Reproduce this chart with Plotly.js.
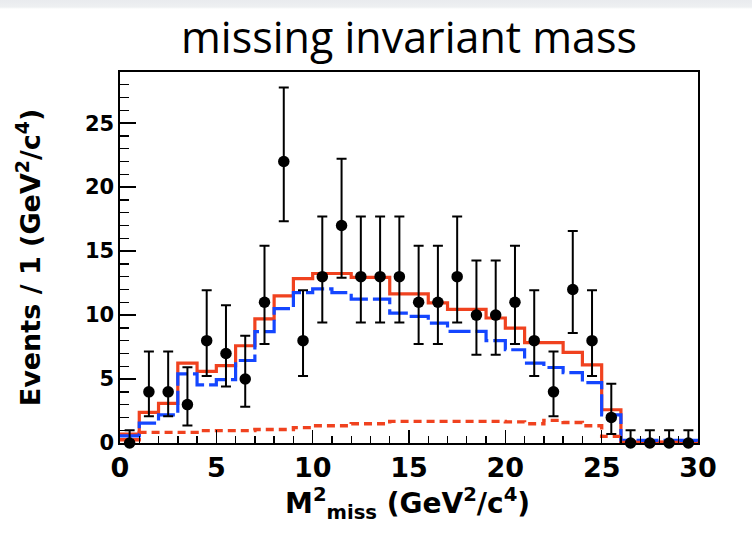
<!DOCTYPE html>
<html>
<head>
<meta charset="utf-8">
<script src="https://cdn.plot.ly/plotly-3.0.1.min.js"></script>
<style>
  html, body { margin: 0; padding: 0; }
  body { width: 752px; height: 546px; background: linear-gradient(to bottom, #e9ebee 0px, #eef0f2 7px, #ffffff 9px); }
  #chart { width: 752px; height: 546px; }
</style>
</head>
<body>
<div id="chart"></div>
<script>
// Bin centres of the data points (bin width 1, 0..30)
const binCenters = [0.5,1.5,2.5,3.5,4.5,5.5,6.5,7.5,8.5,9.5,10.5,11.5,12.5,13.5,14.5,15.5,16.5,17.5,18.5,19.5,20.5,21.5,22.5,23.5,24.5,25.5,26.5,27.5,28.5,29.5];
// Bin edges for the step histograms
const binEdges = [0,1,2,3,4,5,6,7,8,9,10,11,12,13,14,15,16,17,18,19,20,21,22,23,24,25,26,27,28,29,30];

// Data (events per bin) and asymmetric errors
const dataCounts = [0,4,4,3,8,7,5,11,22,8,13,17,13,13,13,11,11,13,10,10,11,8,4,12,8,2,0,0,0,0];
const errUp   = [1.0,3.16,3.16,2.92,3.94,3.77,3.38,4.42,5.79,3.94,4.71,5.21,4.71,4.71,4.71,4.42,4.42,4.71,4.27,4.27,4.42,3.94,3.16,4.58,3.94,2.64,1.0,1.0,1.0,1.0];
const errDown = [0,1.91,1.91,1.63,2.77,2.58,2.16,3.26,4.66,2.77,3.58,4.08,3.58,3.58,3.58,3.26,3.26,3.58,3.11,3.11,3.26,2.77,1.91,3.41,2.77,1.29,0,0,0,0];

// Fit components (per bin)
const totalFit  = [0.7,2.4,3.1,6.25,5.6,6.05,7.6,9.7,11.5,12.85,13.25,13.25,12.95,12.95,11.65,11.65,10.95,10.45,10.45,9.77,8.98,7.84,7.84,7.08,6.1,2.6,0.08,0.08,0.08,0.08];
const signalFit = [0.55,1.56,2.2,5.4,4.55,4.95,6.45,8.7,10.5,11.75,12.05,11.75,11.25,11.25,10.15,9.9,9.37,8.72,8.72,8.0,7.29,6.25,5.9,5.5,4.72,2.2,0.2,0.2,0.2,0.2];
const bkgFit    = [0.25,0.83,0.83,0.83,0.97,0.97,0.97,1.05,1.05,1.2,1.35,1.35,1.5,1.5,1.69,1.69,1.69,1.69,1.69,1.69,1.65,1.5,1.77,1.6,1.35,0.52,0.04,0.04,0.04,0.04];

// Axis titles
const xTitle = 'M<sup>2</sup><sub>miss</sub> (GeV<sup>2</sup>/c<sup>4</sup>)';
const yTitle = 'Events / 1 (GeV<sup>2</sup>/c<sup>4</sup>)';

const RED = '#f0421f';
const BLUE = '#1446ff';

function stepY(v) { return v.concat([v[v.length - 1]]); }

const traces = [
  {
    x: binEdges, y: stepY(totalFit), type: 'scatter', mode: 'lines',
    line: { shape: 'hv', color: RED, width: 3.2 }, hoverinfo: 'skip'
  },
  {
    x: binEdges, y: stepY(signalFit), type: 'scatter', mode: 'lines',
    line: { shape: 'hv', color: BLUE, width: 3.2, dash: '22px,5px' }, hoverinfo: 'skip'
  },
  {
    x: binEdges, y: stepY(bkgFit), type: 'scatter', mode: 'lines',
    line: { shape: 'hv', color: RED, width: 3.4, dash: '8px,5px' }, hoverinfo: 'skip'
  },
  {
    x: binCenters, y: dataCounts, type: 'scatter', mode: 'markers',
    marker: { color: 'black', size: 11.5, symbol: 'circle' },
    error_y: { type: 'data', symmetric: false, array: errUp, arrayminus: errDown,
               color: 'black', thickness: 2, width: 5 },
    cliponaxis: false
  }
];

const axisFont = { family: 'DejaVu Sans, Liberation Sans, sans-serif', color: 'black', weight: 'bold' };

const layout = {
  width: 752, height: 546,
  paper_bgcolor: 'rgba(0,0,0,0)',
  plot_bgcolor: 'white',
  showlegend: false,
  margin: { l: 120, r: 54, t: 72, b: 103 },
  title: {
    text: 'missing invariant mass',
    font: { family: 'Open Sans, Lato, sans-serif', size: 43, color: 'black' },
    x: 0.5, xref: 'paper', xanchor: 'center',
    y: 0.93, yref: 'container', yanchor: 'middle'
  },
  xaxis: {
    range: [0, 30],
    showline: true, mirror: true, linecolor: 'black', linewidth: 1.6,
    ticks: 'inside', ticklen: 13, tickwidth: 1.6, tickcolor: 'black',
    tick0: 0, dtick: 5,
    minor: { ticks: 'inside', dtick: 1, ticklen: 7, tickwidth: 1.4, tickcolor: 'black', showgrid: false },
    showgrid: false, zeroline: false,
    tickfont: Object.assign({ size: 27 }, axisFont)
  },
  yaxis: {
    range: [0, 29],
    showline: true, mirror: true, linecolor: 'black', linewidth: 1.6,
    ticks: 'inside', ticklen: 16, tickwidth: 1.6, tickcolor: 'black',
    tick0: 0, dtick: 5,
    minor: { ticks: 'inside', dtick: 1, ticklen: 9, tickwidth: 1.4, tickcolor: 'black', showgrid: false },
    showgrid: false, zeroline: false,
    tickfont: Object.assign({ size: 21 }, axisFont),
    title: {
      text: yTitle,
      font: Object.assign({ size: 27 }, axisFont),
      standoff: 36
    }
  },
  annotations: [
    {
      text: xTitle, showarrow: false,
      xref: 'paper', yref: 'paper', x: 0.497, y: -0.162,
      xanchor: 'center', yanchor: 'middle',
      font: Object.assign({ size: 28 }, axisFont)
    }
  ]
};

Plotly.newPlot('chart', traces, layout, { displayModeBar: false, staticPlot: true });
</script>
</body>
</html>
